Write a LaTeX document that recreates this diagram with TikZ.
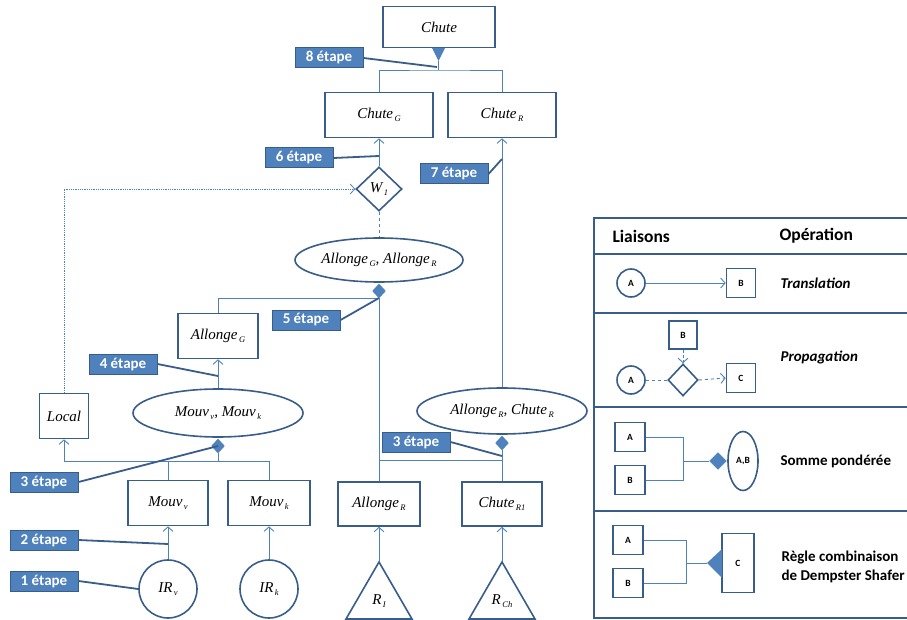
\documentclass[tikz,border=0pt]{standalone}
\usepackage{fontspec}
\setmainfont{Liberation Serif}
\newfontfamily\calfont{Carlito}
\usetikzlibrary{shapes.geometric,arrows.meta}
\definecolor{bordc}{HTML}{385D8A}
\definecolor{linec}{HTML}{4F81BD}
\definecolor{lblfill}{HTML}{4F81BD}
\newcommand{\labfont}{\fontsize{15}{17}\selectfont\itshape}
\newcommand{\sbs}[1]{\hspace{1.5pt}\raisebox{-0.45ex}{\fontsize{8.5}{9}\selectfont #1}}
\tikzset{
  box/.style={draw=bordc, line width=1.6pt, fill=white, inner sep=0pt, font=\labfont},
  ell/.style={ellipse, draw=bordc, line width=1.6pt, fill=white, inner sep=0pt, font=\labfont},
  circ/.style={circle, draw=bordc, line width=1.6pt, fill=white, inner sep=0pt, font=\labfont},
  dia/.style={diamond, draw=bordc, line width=1.6pt, fill=white, inner sep=0pt, font=\labfont},
  fdia/.style={diamond, fill=linec, draw=linec, inner sep=0pt, minimum width=13pt, minimum height=14pt},
  lbl/.style={draw=bordc, line width=1pt, fill=lblfill, text=white, inner sep=0pt,
    minimum width=68pt, minimum height=20pt, font=\calfont\bfseries\fontsize{15}{16}\selectfont},
  conn/.style={draw=linec, line width=0.9pt},
  arr/.style={conn, -{Straight Barb[length=4.5pt,width=10pt]}},
  lead/.style={draw=bordc, line width=1.8pt},
  lgbox/.style={draw=bordc, line width=1.6pt, fill=white, inner sep=0pt,
    minimum width=29pt, minimum height=29pt, font=\calfont\bfseries\fontsize{9.5}{10}\selectfont},
  lgtext/.style={anchor=west, font=\calfont\bfseries\fontsize{15}{18.5}\selectfont, align=left}
}
\begin{document}
\begin{tikzpicture}[x=1pt,y=-1pt]
\useasboundingbox (0,0) rectangle (907,620);

% ---------- top ----------
\node[box, minimum width=112pt, minimum height=41pt] (chute) at (439,27) {Chute};
\fill[linec] (432,48) -- (445,48) -- (438.5,61) -- cycle;
\coordinate (tap) at (438.5,61);
\coordinate (j8) at (438.5,70);
\node[box, minimum width=108pt, minimum height=45pt] (chG) at (379,115) {Chute\sbs{G}};
\node[box, minimum width=108pt, minimum height=45pt] (chR) at (502,115) {Chute\sbs{R}};
\draw[conn] (tap) -- (j8);
\draw[conn] (chG.north) |- (j8) -| (chR.north);
\node[lbl] (l8) at (329,58) {8 étape};
\draw[lead] (l8.east) -- (437,67);

% ---------- W1 ----------
\node[dia, minimum width=46pt, minimum height=44pt] (w1) at (379,189) {W\sbs{1}};
\draw[arr] (w1.north) -- (chG.south);
\node[lbl] (l6) at (299,158) {6 étape};
\draw[lead] (l6.east) -- (379,156);

\node[ell, minimum width=168pt, minimum height=44pt] (e1) at (379,260) {Allonge\sbs{G}, Allonge\sbs{R}};
\draw[conn, dashed] (w1.south) -- (e1.north);
\node[fdia] (d1) at (379,291) {};
\coordinate (j5) at (379,298);

% ---------- Chute_R column ----------
\node[ell, minimum width=170pt, minimum height=46pt] (e2) at (502,411) {Allonge\sbs{R}, Chute\sbs{R}};
\draw[arr] (e2.north) -- (chR.south);
\node[lbl] (l7) at (454,174) {7 étape};
\draw[lead] (l7.east) -- (502,159);

% ---------- left side ----------
\node[box, minimum width=80pt, minimum height=45pt] (alG) at (218,336) {Allonge\sbs{G}};
\draw[conn] (d1.south) -- (j5) -| (alG.north);
\node[lbl] (l5) at (306,320) {5 étape};
\draw[lead] (l5.east) -- (j5);

\node[ell, minimum width=170pt, minimum height=48pt] (e3) at (218,413) {Mouv\sbs{v}, Mouv\sbs{k}};
\draw[arr] (e3.north) -- (alG.south);
\node[lbl] (l4) at (123,364) {4 étape};
\draw[lead] (l4.east) -- (218,376);

\node[box, minimum width=49pt, minimum height=45pt] (loc) at (64,416) {Local};
\draw[linec, densely dotted, line width=0.8pt, -{Straight Barb[length=4.5pt,width=10pt]}] (loc.north) |- (w1.west);

\node[fdia] (d2) at (218,446) {};
\coordinate (j3) at (218,461);
\node[box, minimum width=80pt, minimum height=45pt] (mv) at (168,503) {Mouv\sbs{v}};
\node[box, minimum width=82pt, minimum height=45pt] (mk) at (269,503) {Mouv\sbs{k}};
\draw[conn] (d2.south) -- (j3);
\draw[conn] (mv.north) |- (j3);
\draw[conn] (mk.north) |- (j3);
\draw[arr] (j3) -| (loc.south);
\node[lbl] (l3a) at (44,482) {3 étape};
\draw[lead] (l3a.east) -- (d2.center);

\node[circ, minimum size=58pt] (irv) at (168,589) {IR\sbs{v}};
\node[circ, minimum size=58pt] (irk) at (269,589) {IR\sbs{k}};
\draw[arr] (irv.north) -- (mv.south);
\draw[arr] (irk.north) -- (mk.south);
\node[lbl] (l2) at (44,540) {2 étape};
\draw[lead] (l2.east) -- (168,544);
\node[lbl] (l1) at (44,581) {1 étape};
\draw[lead] (l1.east) -- (irv.west);

% ---------- right-middle ----------
\node[box, minimum width=82pt, minimum height=44pt] (alR) at (379,504) {Allonge\sbs{R}};
\node[box, minimum width=80pt, minimum height=44pt] (cR1) at (502,504) {Chute\sbs{R1}};
\draw[conn] (j5) -- (alR.north);
\node[fdia] (d3) at (502,443) {};
\coordinate (j3b) at (502,460);
\draw[conn] (d3.south) -- (cR1.north);
\draw[conn] (j3b) -- (j3b -| alR.north);
\node[lbl] (l3b) at (416,442) {3 étape};
\draw[lead] (l3b.east) -- (502,456);

\coordinate (ta) at (379,562);
\coordinate (tb) at (502,562);
\draw[bordc, line width=1.6pt, fill=white] (ta) -- (346,619) -- (412,619) -- cycle;
\draw[bordc, line width=1.6pt, fill=white] (tb) -- (469,619) -- (535,619) -- cycle;
\node[font=\labfont] (rI) at (379,601) {R\sbs{I}};
\node[font=\labfont] (rC) at (502,601) {R\sbs{Ch}};
\draw[arr] (ta) -- (alR.south);
\draw[arr] (tb) -- (cR1.south);

% ---------- legend ----------
\draw[bordc, line width=1.6pt] (594,218) rectangle (915,618);
\foreach \yy in {254,313,407,511} \draw[bordc, line width=1.6pt] (594,\yy) -- (915,\yy);
\node[lgtext, font=\calfont\bfseries\fontsize{17.5}{20}\selectfont] (hl) at (609,236) {Liaisons};
\node[lgtext, font=\calfont\bfseries\fontsize{17.5}{20}\selectfont] (ho) at (776,236) {Opération};

% row 1
\node[circ, minimum size=28pt, font=\calfont\bfseries\fontsize{9.5}{10}\selectfont] (a1) at (631,283) {A};
\node[lgbox] (b1) at (741,283) {B};
\draw[arr] (a1.east) -- (b1.west);
\node[lgtext, font=\calfont\bfseries\itshape\fontsize{15}{18}\selectfont] (t1) at (777,283) {Translation};

% row 2
\node[lgbox, minimum width=28pt, minimum height=28pt] (b2) at (683,335) {B};
\node[dia, minimum width=30pt, minimum height=32pt] (dd2) at (683,380) {};
\node[circ, minimum size=28pt, font=\calfont\bfseries\fontsize{9.5}{10}\selectfont] (a2) at (631,380) {A};
\node[lgbox] (c2) at (741,378) {C};
\draw[conn, dashed] (a2.east) -- (dd2.west);
\draw[arr, dashed] (dd2.east) -- (c2.west);
\draw[arr, densely dashed] (b2.south) -- (dd2.north);
\node[lgtext, font=\calfont\bfseries\itshape\fontsize{15}{18}\selectfont] (t2) at (777,357) {Propagation};

% row 3
\node[lgbox, minimum width=30pt] (a3) at (630,437) {A};
\node[lgbox, minimum width=30pt] (b3) at (630,480) {B};
\coordinate (jj3) at (683,461);
\node[fdia, minimum width=17pt, minimum height=17pt] (dd3) at (718,461) {};
\node[ell, minimum width=30pt, minimum height=59pt, font=\calfont\bfseries\fontsize{9.5}{10}\selectfont] (e4) at (743,461) {A,B};
\draw[conn] (a3.east) -| (jj3);
\draw[conn] (b3.east) -| (jj3);
\draw[conn] (jj3) -- (dd3.west);
\node[lgtext] (t3) at (777,461) {Somme pondérée};

% row 4
\node[lgbox, minimum width=30pt] (a4) at (628,540) {A};
\node[lgbox, minimum width=30pt] (b4) at (628,583) {B};
\node[lgbox, minimum width=32pt, minimum height=59pt] (c4) at (738,563) {C};
\coordinate (jj4) at (686,563);
\coordinate (tp4) at (707,563);
\fill[linec] (tp4) -- (722,549) -- (722,578) -- cycle;
\draw[conn] (a4.east) -| (jj4);
\draw[conn] (b4.east) -| (jj4);
\draw[conn] (jj4) -- (tp4);
\node[lgtext] (t4) at (778,567) {Règle combinaison\\de Dempster Shafer};
\end{tikzpicture}
\end{document}
